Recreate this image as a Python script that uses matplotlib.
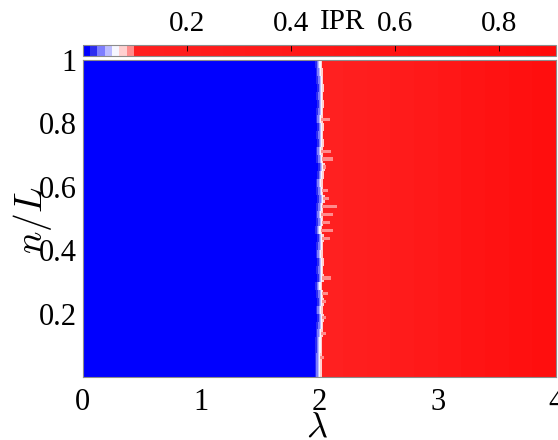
import numpy as np
import matplotlib
matplotlib.use('Agg')
import matplotlib.pyplot as plt
from matplotlib.colors import ListedColormap, Normalize

plt.rcParams['font.family'] = ['Liberation Serif', 'DejaVu Serif']
plt.rcParams['mathtext.fontset'] = 'cm'

#-----------------------------------------------------------------------------------------------------------------------
# Data (rows listed from top n/L=1 to bottom n/L=0)

edge_lam = [2.005, 2.010, 2.015, 2.020, 2.015, 2.020, 2.015, 2.010, 2.020, 2.015,
            2.020, 2.010, 2.015, 2.028, 2.020, 2.010, 2.015, 2.025, 2.015, 2.010,
            2.015, 2.005, 2.020, 2.015, 2.010, 2.020, 2.015, 2.020, 2.005, 2.015,
            2.020, 2.010, 2.020, 2.015, 2.010, 2.005, 2.005, 2.000, 2.000, 2.000]
# right end of the pale streaks that poke into the red side
fringe_end = [2.025, 2.030, 2.035, 2.040, 2.035, 2.040, 2.035, 2.090, 2.040, 2.035,
              2.040, 2.100, 2.120, 2.060, 2.040, 2.030, 2.070, 2.080, 2.150, 2.120,
              2.090, 2.120, 2.090, 2.035, 2.030, 2.040, 2.035, 2.100, 2.025, 2.070,
              2.060, 2.030, 2.060, 2.035, 2.060, 2.025, 2.025, 2.040, 2.020, 2.020]

# IPR levels across one row: blue side, transition, red bands
ipr_blue = [0.005, 0.020, 0.035, 0.050, 0.065]   # deep blue -> white
ipr_pink = 0.080
ipr_streak = 0.092
red_edges = [2.2, 2.4, 2.6, 2.8, 3.0, 3.2, 3.4, 3.6, 3.8, 4.0]
ipr_red = [0.11, 0.16, 0.22, 0.29, 0.37, 0.45, 0.53, 0.61, 0.69, 0.77]

x_ticks = [0, 1, 2, 3, 4]
y_ticks = [0.2, 0.4, 0.6, 0.8, 1]
y_ticklabels = ['0.2', '0.4', '0.6', '0.8', '1']
cb_ticks = [0.2, 0.4, 0.6, 0.8]
ipr_max = 0.91

#-----------------------------------------------------------------------------------------------------------------------
# Colormap: 64 levels, blue-white-red in the first 8, red afterwards
head = [(0, 0, 255), (45, 45, 240), (125, 125, 255), (188, 188, 255), (246, 246, 255),
        (255, 208, 208), (255, 140, 140)]
cols = [tuple(c / 255 for c in h) for h in head]
for k in range(57):
    g = (32 - 22 * k / 56) / 255
    cols.append((1.0, g, g))
cmap = ListedColormap(cols)
norm = Normalize(0, ipr_max)

fig = plt.figure(figsize=(5.58, 4.4), dpi=100)
ax = fig.add_axes([82.5 / 558, 1 - 377 / 440, 473.5 / 558, 317 / 440])
cax = fig.add_axes([82.5 / 558, 1 - 56 / 440, 473.5 / 558, 11 / 440])

nrow = len(edge_lam)
dy = 1.0 / nrow
mesh = None
for i in range(nrow):
    c = edge_lam[i]
    f = fringe_end[i]
    xe = [0, c - 0.04, c - 0.025, c - 0.012, c - 0.004, c + 0.006, c + 0.02] + red_edges
    vals = ipr_blue + [ipr_pink] + ipr_red
    y1 = 1 - i * dy
    y0 = y1 - dy
    mesh = ax.pcolormesh(xe, [y0, y1], np.array([vals]), cmap=cmap, norm=norm,
                         shading='flat', edgecolors='none', antialiased=False)
    if f > c + 0.03:
        yc = (y0 + y1) / 2
        ax.pcolormesh([c + 0.006, f], [yc - dy / 5, yc + dy / 5], np.array([[ipr_streak]]),
                      cmap=cmap, norm=norm, shading='flat', edgecolors='none', antialiased=False)

ax.set_xlim(0, 4)
ax.set_ylim(0, 1)
ax.set_xticks(x_ticks)
ax.set_yticks(y_ticks)
ax.set_yticklabels(y_ticklabels)
ax.tick_params(length=0, labelsize=22)
ax.tick_params(axis='x', pad=8)
ax.tick_params(axis='y', pad=4)
for s in ax.spines.values():
    s.set_color('#8c8c8c')
    s.set_linewidth(0.8)

cb = fig.colorbar(mesh, cax=cax, orientation='horizontal', ticks=cb_ticks)
cax.xaxis.set_ticks_position('top')
cax.tick_params(direction='in', length=4, width=0.6, labelsize=21, pad=6)
cb.outline.set_edgecolor('#8c8c8c')
cb.outline.set_linewidth(0.8)
fig.text(343 / 558, 1 - 22 / 440, 'IPR', fontsize=21, ha='center', va='center')

fig.text(317 / 558, 1 - 428 / 440, r'$\lambda$', fontsize=26, ha='center', va='center')
fig.text(32 / 558, 1 - 220 / 440, r'$n/L$', fontsize=27, ha='center', va='center', rotation=90)

fig.savefig('out.png', dpi=100)
